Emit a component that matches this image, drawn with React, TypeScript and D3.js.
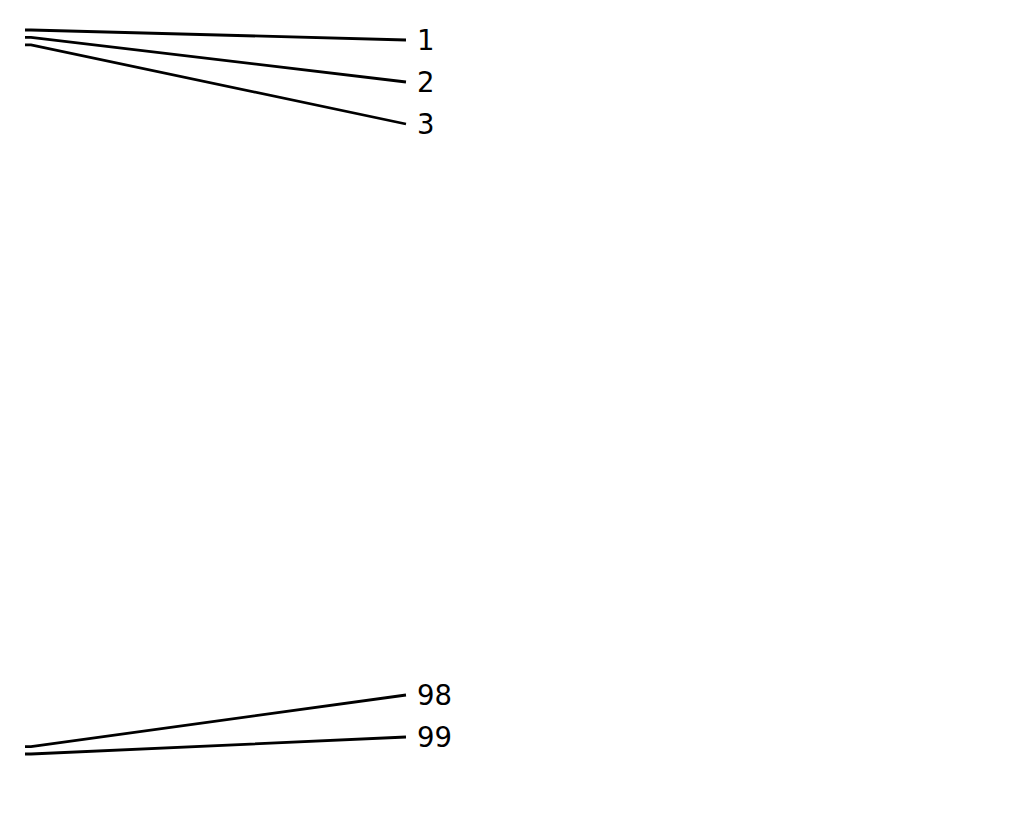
import * as d3 from 'd3';
import { useEffect, useRef } from 'react';

const values = [1, 2, 3, 98, 99];
const labels = ['1', '2', '3', '98', '99'];

const App = (): React.ReactElement => {
  const ref: any = useRef();
  const width = 1015;
  const height = 807;
  const spacing = 42;

  useEffect(() => {
    const svg = d3.select(ref.current).attr('width', width).attr('height', height);
    svg.selectAll('*').remove();

    // positions of the points on the left, body margin is 8px
    const yScale = d3.scaleLinear().domain([1, 99]).range([22, 746]);
    const x0 = 17;
    const x1 = 23;
    const x2 = 398;

    // simple dodge of the labels between the top and bottom limits
    const top = 32;
    const bottom = 729;
    const ly = values.map((v) => Math.min(bottom, Math.max(top, yScale(v))));
    for (let i = 1; i < ly.length; i++) ly[i] = Math.max(ly[i], ly[i - 1] + spacing);
    ly[ly.length - 1] = Math.min(ly[ly.length - 1], bottom);
    for (let i = ly.length - 2; i >= 0; i--) ly[i] = Math.min(ly[i], ly[i + 1] - spacing);

    const g = svg.append('g');

    g.selectAll('path')
      .data(values)
      .enter()
      .append('path')
      .attr('d', (d, i) => {
        const y = yScale(d);
        return 'M' + x0 + ',' + y + 'L' + x1 + ',' + y + 'L' + x2 + ',' + ly[i];
      })
      .attr('fill', 'none')
      .attr('stroke', '#000')
      .attr('stroke-width', 2.8);

    g.selectAll('text')
      .data(labels)
      .enter()
      .append('text')
      .attr('x', x2 + 11)
      .attr('y', (d, i) => ly[i])
      .attr('dy', '0.35em')
      .attr('font-family', 'DejaVu Sans')
      .attr('font-size', 27.5)
      .attr('fill', '#000')
      .text((d) => d);
  }, []);

  return <svg ref={ref} style={{ display: 'block' }} />;
};

export default App;
